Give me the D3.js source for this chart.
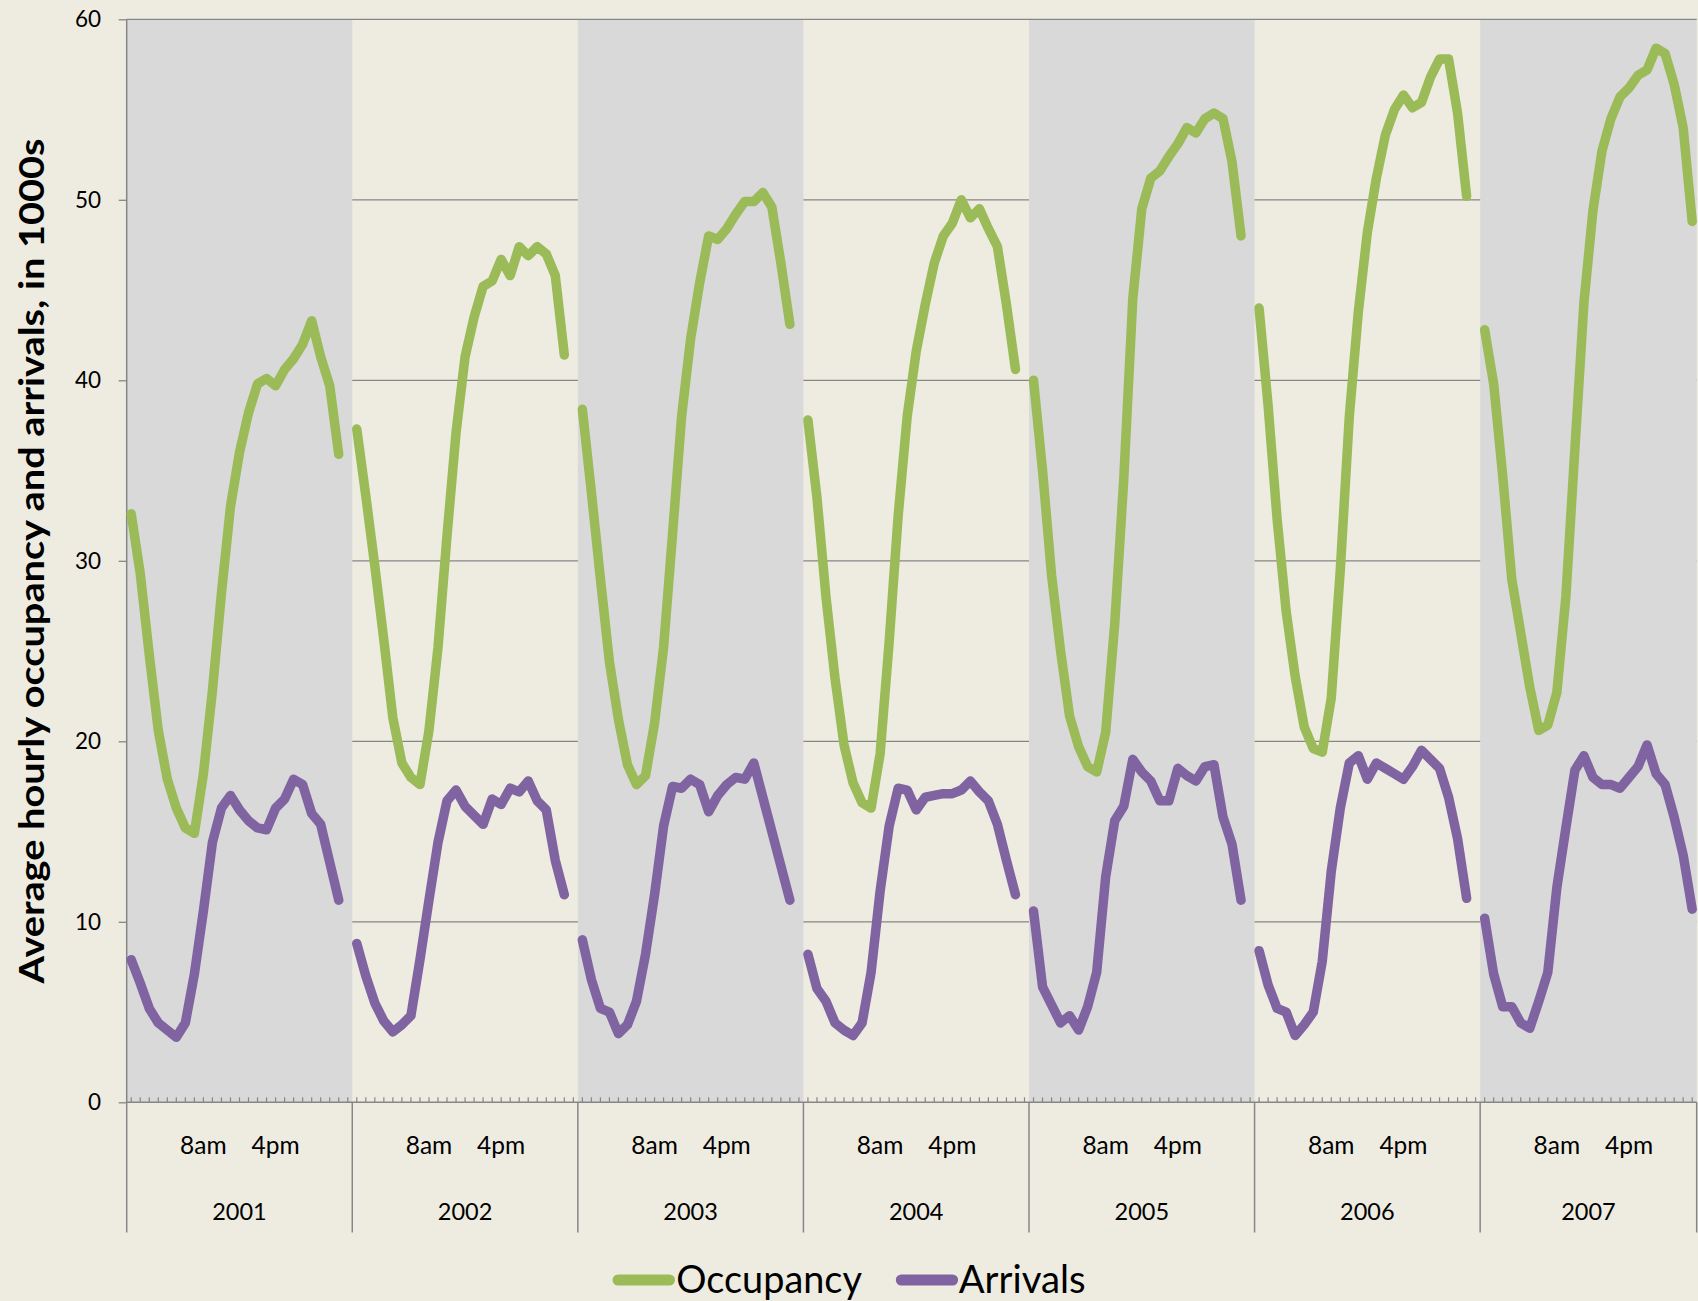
<!DOCTYPE html>
<html>
<head>
<meta charset="utf-8">
<script src="https://cdn.jsdelivr.net/npm/d3@7/dist/d3.min.js"></script>
<style>
  html, body { margin: 0; padding: 0; background: #EEECE1; }
  svg { display: block; }
  text { font-family: Lato, "Open Sans", "Noto Sans", sans-serif; fill: #000; }
</style>
</head>
<body>
<svg id="chart" width="1698" height="1301"></svg>
<script>
// Years shown as panels along the category axis
const years = ["2001", "2002", "2003", "2004", "2005", "2006", "2007"];
// Hour-of-day labels printed inside each year panel
const hourLabels = [{ hour: 8, text: "8am" }, { hour: 16, text: "4pm" }];
const yTicks = [0, 10, 20, 30, 40, 50, 60];
const seriesNames = ["Occupancy", "Arrivals"];

// Average hourly occupancy (thousands), hours 0-23
const occ2001 = [32.6, 29.3, 24.8, 20.6, 17.9, 16.3, 15.2, 14.9, 18.2, 22.8, 28.2, 33.0, 36.0, 38.2, 39.8, 40.1, 39.7, 40.6, 41.2, 42.0, 43.3, 41.3, 39.7, 35.9];
const occ2002 = [37.3, 33.6, 29.7, 25.6, 21.3, 18.8, 18.0, 17.6, 20.6, 25.2, 31.4, 37.1, 41.3, 43.5, 45.2, 45.5, 46.7, 45.8, 47.4, 46.9, 47.4, 47.0, 45.8, 41.4];
const occ2003 = [38.4, 33.8, 29.0, 24.4, 21.2, 18.7, 17.6, 18.1, 21.0, 25.2, 31.5, 38.0, 42.3, 45.4, 48.0, 47.8, 48.4, 49.2, 49.9, 49.9, 50.4, 49.6, 46.5, 43.1];
const occ2004 = [37.8, 33.5, 28.0, 23.5, 19.8, 17.7, 16.6, 16.3, 19.3, 25.5, 32.5, 38.0, 41.6, 44.2, 46.5, 48.0, 48.7, 50.0, 49.0, 49.5, 48.4, 47.4, 44.2, 40.6];
const occ2005 = [40.0, 35.0, 29.2, 25.0, 21.4, 19.7, 18.6, 18.3, 20.5, 26.5, 34.5, 44.5, 49.5, 51.2, 51.6, 52.4, 53.1, 54.0, 53.7, 54.5, 54.8, 54.5, 52.1, 48.0];
const occ2006 = [44.0, 38.6, 32.3, 27.2, 23.6, 20.8, 19.6, 19.4, 22.4, 29.5, 38.0, 43.8, 48.2, 51.2, 53.6, 55.0, 55.8, 55.1, 55.4, 56.8, 57.8, 57.8, 54.8, 50.2];
const occ2007 = [42.8, 39.8, 34.7, 29.0, 26.0, 23.0, 20.6, 20.9, 22.7, 28.0, 36.2, 44.3, 49.4, 52.7, 54.5, 55.7, 56.2, 56.9, 57.2, 58.4, 58.1, 56.4, 54.0, 48.8];

// Average hourly arrivals (thousands), hours 0-23
const arr2001 = [7.9, 6.6, 5.2, 4.4, 4.0, 3.6, 4.4, 7.1, 10.6, 14.4, 16.3, 17.0, 16.2, 15.6, 15.2, 15.1, 16.3, 16.8, 17.9, 17.6, 16.0, 15.4, 13.3, 11.2];
const arr2002 = [8.8, 7.0, 5.5, 4.5, 3.9, 4.3, 4.8, 7.9, 11.2, 14.4, 16.7, 17.3, 16.4, 15.9, 15.4, 16.8, 16.5, 17.4, 17.2, 17.8, 16.7, 16.2, 13.4, 11.5];
const arr2003 = [9.0, 6.8, 5.2, 5.0, 3.8, 4.3, 5.6, 8.2, 11.5, 15.3, 17.5, 17.4, 17.9, 17.6, 16.1, 17.0, 17.6, 18.0, 17.9, 18.8, 16.9, 15.0, 13.1, 11.2];
const arr2004 = [8.2, 6.3, 5.6, 4.4, 4.0, 3.7, 4.4, 7.2, 11.7, 15.3, 17.4, 17.3, 16.2, 16.9, 17.0, 17.1, 17.1, 17.3, 17.8, 17.2, 16.7, 15.4, 13.4, 11.5];
const arr2005 = [10.6, 6.4, 5.4, 4.4, 4.8, 4.0, 5.3, 7.2, 12.5, 15.6, 16.4, 19.0, 18.3, 17.8, 16.7, 16.7, 18.5, 18.1, 17.8, 18.6, 18.7, 15.8, 14.3, 11.2];
const arr2006 = [8.4, 6.5, 5.2, 5.0, 3.7, 4.3, 5.0, 7.8, 12.8, 16.3, 18.8, 19.2, 17.9, 18.8, 18.5, 18.2, 17.9, 18.6, 19.5, 19.0, 18.5, 16.9, 14.6, 11.3];
const arr2007 = [10.2, 7.1, 5.3, 5.3, 4.4, 4.1, 5.6, 7.2, 11.9, 15.2, 18.4, 19.2, 18.0, 17.6, 17.6, 17.4, 18.0, 18.6, 19.8, 18.2, 17.6, 15.8, 13.7, 10.7];

const occupancyByYear = [occ2001, occ2002, occ2003, occ2004, occ2005, occ2006, occ2007];
const arrivalsByYear = [arr2001, arr2002, arr2003, arr2004, arr2005, arr2006, arr2007];

// ---- layout & style ----
const W = 1698, H = 1301;
const plot = { left: 126.7, right: 1696.7, top: 19.3, bottom: 1102.3 };
const axisBottomEnd = 1232.5;
const colors = { occ: "#9BBB59", arr: "#8064A2", grid: "#868686", band: "#D9D9D9", bg: "#EEECE1" };

const svg = d3.select("#chart");
svg.append("rect").attr("width", W).attr("height", H).attr("fill", colors.bg);

// One category per hour, with an empty slot separating consecutive years
const keys = years.flatMap((yr, i) => {
  const k = d3.range(24).map(h => yr + "|" + h);
  if (i < years.length - 1) k.push(yr + "|gap");
  return k;
});

const x = d3.scaleBand().domain(keys).range([plot.left, plot.right]).padding(0);
const y = d3.scaleLinear().domain([0, 60]).range([plot.bottom, plot.top]);
const bw = x.bandwidth();
const cx = key => x(key) + bw / 2;

// year panel extents
const panels = years.map((yr, i) => ({
  year: yr,
  x0: x(yr + "|0"),
  x1: i < years.length - 1 ? x(years[i + 1] + "|0") : plot.right
}));

// gridlines (hidden behind the shaded year panels)
svg.append("g").selectAll("line")
  .data(yTicks.filter(v => v > 0 && v < 60))
  .join("line")
  .attr("x1", plot.left).attr("x2", plot.right)
  .attr("y1", d => y(d)).attr("y2", d => y(d))
  .attr("stroke", colors.grid).attr("stroke-width", 1.3);

// alternating shaded panels
svg.append("g").selectAll("rect")
  .data(panels.filter((p, i) => i % 2 === 0))
  .join("rect")
  .attr("x", d => d.x0).attr("width", d => d.x1 - d.x0)
  .attr("y", y(60)).attr("height", y(0) - y(60))
  .attr("fill", colors.band);

// top gridline
svg.append("line")
  .attr("x1", plot.left).attr("x2", plot.right)
  .attr("y1", y(60)).attr("y2", y(60))
  .attr("stroke", colors.grid).attr("stroke-width", 1.3);

// y axis
const yAxis = d3.axisLeft(y).tickValues(yTicks).tickSize(8).tickPadding(17.7).tickFormat(d3.format("d"));
const gy = svg.append("g").attr("transform", `translate(${plot.left},0)`).call(yAxis);
gy.select(".domain").remove();
gy.selectAll(".tick line").attr("stroke", colors.grid).attr("stroke-width", 1.3);
gy.selectAll(".tick text").attr("font-size", 22.5).attr("fill", "#000")
  .style("font-family", "Lato, 'Open Sans', sans-serif");

svg.append("line")
  .attr("x1", plot.left).attr("x2", plot.left)
  .attr("y1", plot.top).attr("y2", axisBottomEnd)
  .attr("stroke", colors.grid).attr("stroke-width", 1.5);

// x axis baseline with small category ticks
const xAxis = d3.axisTop(x).tickSize(5).tickFormat("");
const gx = svg.append("g").attr("transform", `translate(0,${plot.bottom})`).call(xAxis);
gx.select(".domain").remove();
gx.selectAll(".tick line").attr("stroke", colors.grid).attr("stroke-width", 1.2);

svg.append("line")
  .attr("x1", plot.left).attr("x2", plot.right)
  .attr("y1", plot.bottom).attr("y2", plot.bottom)
  .attr("stroke", colors.grid).attr("stroke-width", 1.5);

// year separators below the axis
svg.append("g").selectAll("line")
  .data(panels.slice(1).map(p => p.x0).concat([plot.right]))
  .join("line")
  .attr("x1", d => d).attr("x2", d => d)
  .attr("y1", plot.bottom).attr("y2", axisBottomEnd)
  .attr("stroke", colors.grid).attr("stroke-width", 1.5);

// hour labels
const hourG = svg.append("g").attr("font-size", 24.5).attr("text-anchor", "middle");
years.forEach(yr => {
  hourLabels.forEach(hl => {
    hourG.append("text")
      .attr("x", cx(yr + "|" + hl.hour))
      .attr("y", 1154)
      .text(hl.text);
  });
});

// year labels
svg.append("g").attr("font-size", 23.5).attr("text-anchor", "middle")
  .selectAll("text").data(panels).join("text")
  .attr("x", d => (d.x0 + d.x1) / 2)
  .attr("y", 1219.5)
  .text(d => d.year);

// series lines, one path per year so the line breaks between years
const line = d3.line()
  .x(d => cx(d.key))
  .y(d => y(d.value));

function drawSeries(byYear, color) {
  const g = svg.append("g");
  years.forEach((yr, i) => {
    const pts = byYear[i].map((v, h) => ({ key: yr + "|" + h, value: v }));
    g.append("path")
      .datum(pts)
      .attr("d", line)
      .attr("fill", "none")
      .attr("stroke", color)
      .attr("stroke-width", 9.5)
      .attr("stroke-linejoin", "round")
      .attr("stroke-linecap", "round");
  });
}
drawSeries(occupancyByYear, colors.occ);
drawSeries(arrivalsByYear, colors.arr);

// y axis title
svg.append("text")
  .attr("transform", "translate(43.5,561) rotate(-90)")
  .attr("text-anchor", "middle")
  .attr("font-size", 34.5)
  .attr("font-weight", "bold")
  .attr("textLength", 845)
  .attr("lengthAdjust", "spacingAndGlyphs")
  .text("Average hourly occupancy and arrivals, in 1000s");

// legend
const legend = [
  { name: seriesNames[0], color: colors.occ, x0: 613, x1: 674.5, tx: 676.3, tw: 185.6 },
  { name: seriesNames[1], color: colors.arr, x0: 896.3, x1: 957.6, tx: 958.7, tw: 127 }
];
const lg = svg.append("g");
legend.forEach(d => {
  lg.append("line")
    .attr("x1", d.x0 + 5).attr("x2", d.x1 - 5)
    .attr("y1", 1280).attr("y2", 1280)
    .attr("stroke", d.color).attr("stroke-width", 11)
    .attr("stroke-linecap", "round");
  lg.append("text")
    .attr("x", d.tx).attr("y", 1293)
    .attr("font-size", 39)
    .attr("textLength", d.tw)
    .attr("lengthAdjust", "spacingAndGlyphs")
    .text(d.name);
});
</script>
</body>
</html>
